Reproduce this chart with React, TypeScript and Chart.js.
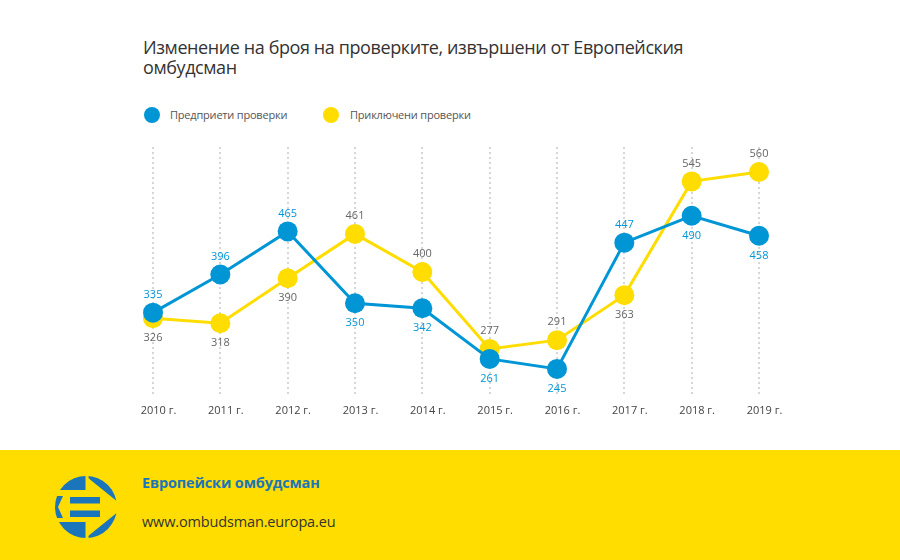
import React, { useEffect, useRef } from "react";
import { Chart, registerables } from "chart.js";

Chart.register(...registerables);

const categories = ["2010 г.", "2011 г.", "2012 г.", "2013 г.", "2014 г.", "2015 г.", "2016 г.", "2017 г.", "2018 г.", "2019 г."];
const openedInquiries = [335, 396, 465, 350, 342, 261, 245, 447, 490, 458];
const closedInquiries = [326, 318, 390, 461, 400, 277, 291, 363, 545, 560];
// -1: label above the point, 1: label below
const openedLabelSide = [-1, -1, -1, 1, 1, 1, 1, -1, 1, 1];
const closedLabelSide = [1, 1, 1, -1, -1, -1, -1, 1, -1, -1];
const seriesNames = ["Предприети проверки", "Приключени проверки"];

const BLUE = "#0096D6";
const YELLOW = "#FFDD00";
const LOGO_BLUE = "#1B75BB";
const FONT = "'Open Sans', 'Noto Sans', sans-serif";

const valueLabels = {
  id: "valueLabels",
  afterDatasetsDraw(chart: any) {
    const ctx = chart.ctx;
    chart.data.datasets.forEach((ds: any, i: number) => {
      const meta = chart.getDatasetMeta(i);
      const sides = i === 0 ? openedLabelSide : closedLabelSide;
      ctx.save();
      ctx.font = `11px ${FONT}`;
      ctx.fillStyle = i === 0 ? BLUE : "#666666";
      ctx.textAlign = "center";
      ctx.textBaseline = "middle";
      meta.data.forEach((pt: any, j: number) => {
        const y = pt.y + (sides[j] < 0 ? -18 : 20);
        ctx.fillText(String(ds.data[j]), pt.x, y);
      });
      ctx.restore();
    });
  },
};

function Logo() {
  const cx = 36, cy = 36, r = 31;
  return (
    <svg width={72} height={72} style={{ position: "absolute", left: 50, top: 471 }}>
      <defs>
        <clipPath id="logoCircle">
          <circle cx={cx} cy={cy} r={r} />
        </clipPath>
      </defs>
      <g clipPath="url(#logoCircle)" fill={LOGO_BLUE}>
        <rect x={0} y={0} width={cx - 0.5} height={cy - 17} />
        <rect x={0} y={cy + 15} width={cx - 0.5} height={40} />
        <polygon points={`${cx + 2.5},0 ${cx + 2.5},${cy - 29} ${cx + 4},${cy - 27.5} ${cx + 30},${cy - 6.5} 72,${cy - 6.5} 72,0`} />
        <polygon points={`${cx + 2.5},72 ${cx + 2.5},${cy + 29} ${cx + 4},${cy + 27.5} ${cx + 30},${cy + 6.5} 72,${cy + 6.5} 72,72`} />
        <polygon points={`0,${cy - 11} ${cx - 23},${cy - 11} ${cx - 28},${cy} ${cx - 23},${cy + 11} 0,${cy + 11}`} />
        <rect x={cx - 16} y={cy - 10} width={30} height={6.5} />
        <rect x={cx - 16} y={cy + 3.5} width={30} height={6.5} />
      </g>
    </svg>
  );
}

export default function App() {
  const canvasRef = useRef<HTMLCanvasElement | null>(null);

  useEffect(() => {
    const canvas = canvasRef.current;
    if (!canvas) return;
    const chart = new Chart(canvas, {
      type: "line",
      data: {
        labels: categories,
        datasets: [
          {
            label: seriesNames[0],
            data: openedInquiries,
            borderColor: BLUE,
            backgroundColor: BLUE,
            pointBackgroundColor: BLUE,
            borderWidth: 3,
            pointRadius: 10,
            pointBorderWidth: 0,
            pointHoverRadius: 10,
            tension: 0,
          },
          {
            label: seriesNames[1],
            data: closedInquiries,
            borderColor: YELLOW,
            backgroundColor: YELLOW,
            pointBackgroundColor: YELLOW,
            borderWidth: 3,
            pointRadius: 10,
            pointBorderWidth: 0,
            pointHoverRadius: 10,
            tension: 0,
          },
        ],
      },
      options: {
        animation: false,
        responsive: false,
        maintainAspectRatio: false,
        events: [],
        layout: { padding: { left: 153, right: 141, top: 147, bottom: 0 } },
        plugins: {
          legend: { display: false },
          title: { display: false },
          tooltip: { enabled: false },
        },
        scales: {
          x: {
            offset: false,
            grid: { color: "#d6d6d6", lineWidth: 2, drawTicks: false },
            border: { display: false, dash: [2, 3] },
            ticks: { color: "#444444", font: { family: FONT, size: 11 }, padding: 7, maxRotation: 0, labelOffset: 5.5 },
            afterFit: (scale: any) => {
              scale.height = 53;
            },
          },
          y: {
            display: false,
            min: 200,
            max: 600,
          },
        },
      },
      plugins: [valueLabels],
    });
    return () => chart.destroy();
  }, []);

  return (
    <div style={{ position: "fixed", left: 0, top: 0, width: 900, height: 560, background: "#ffffff", fontFamily: FONT, overflow: "hidden" }}>
      <div style={{ position: "absolute", left: 143, top: 37, fontSize: 18, letterSpacing: -0.4, lineHeight: "20px", color: "#333333", width: 620 }}>
        Изменение на броя на проверките, извършени от Европейския
        <br />
        омбудсман
      </div>
      <div style={{ position: "absolute", left: 144, top: 107, height: 16, display: "flex", alignItems: "center" }}>
        <span style={{ display: "inline-block", width: 16, height: 16, borderRadius: 8, background: BLUE }} />
      </div>
      <div style={{ position: "absolute", left: 170, top: 107, height: 16, lineHeight: "16px", fontSize: 11, letterSpacing: -0.2, color: "#555555" }}>{seriesNames[0]}</div>
      <div style={{ position: "absolute", left: 323, top: 107, height: 16, display: "flex", alignItems: "center" }}>
        <span style={{ display: "inline-block", width: 16, height: 16, borderRadius: 8, background: YELLOW }} />
      </div>
      <div style={{ position: "absolute", left: 350, top: 107, height: 16, lineHeight: "16px", fontSize: 11, letterSpacing: -0.2, color: "#555555" }}>{seriesNames[1]}</div>
      <canvas ref={canvasRef} width={900} height={450} style={{ position: "absolute", left: 0, top: 0, width: 900, height: 450 }} />
      <div style={{ position: "absolute", left: 0, top: 450, width: 900, height: 110, background: YELLOW }}>
        <div style={{ position: "absolute", left: 142, top: 23, fontSize: 14.5, letterSpacing: -0.15, fontWeight: 700, color: LOGO_BLUE, lineHeight: "20px" }}>
          Европейски омбудсман
        </div>
        <div style={{ position: "absolute", left: 142, top: 62, fontSize: 14.5, letterSpacing: -0.15, color: "#333333", lineHeight: "20px" }}>
          www.ombudsman.europa.eu
        </div>
      </div>
      <Logo />
    </div>
  );
}
